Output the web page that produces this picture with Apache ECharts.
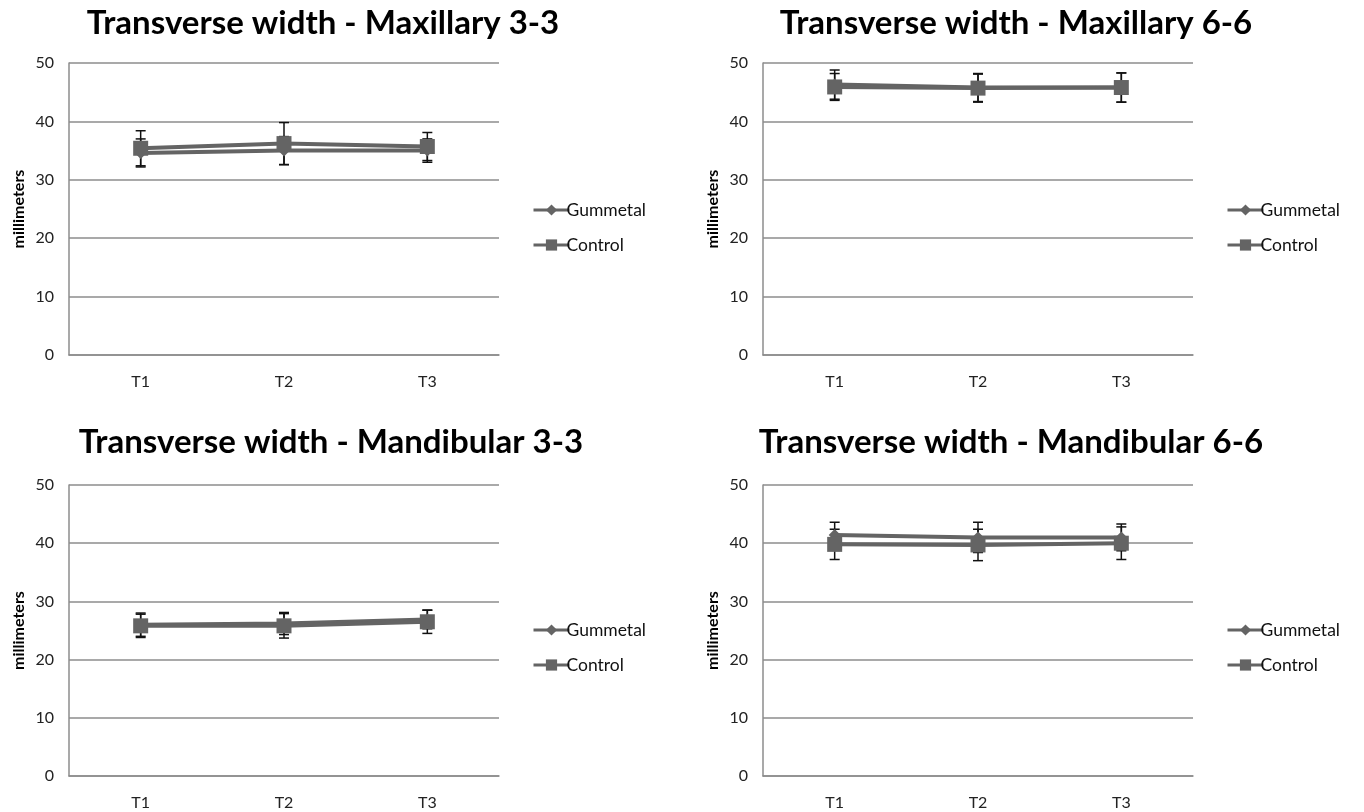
<!DOCTYPE html>
<html>
<head>
<meta charset="utf-8">
<script src="https://cdn.jsdelivr.net/npm/echarts@6/dist/echarts.min.js"></script>
<style>html,body{margin:0;padding:0;background:#fff}#c{width:1364px;height:812px}</style>
</head>
<body>
<div id="c"></div>
<script>
const categories = ['T1', 'T2', 'T3'];
const yTicks = [0, 10, 20, 30, 40, 50];
const seriesNames = ['Gummetal', 'Control'];
const chartTitles = [
  'Transverse width - Maxillary 3-3',
  'Transverse width - Maxillary 6-6',
  'Transverse width - Mandibular 3-3',
  'Transverse width - Mandibular 6-6'
];
// Maxillary 3-3
const max33Gummetal = [34.6, 35.0, 35.0];
const max33GummetalSD = [2.4, 2.4, 2.0];
const max33Control = [35.4, 36.2, 35.7];
const max33ControlSD = [3.0, 3.6, 2.4];
// Maxillary 6-6
const max66Gummetal = [46.3, 45.8, 45.8];
const max66GummetalSD = [2.5, 2.4, 2.5];
const max66Control = [45.9, 45.7, 45.8];
const max66ControlSD = [2.3, 2.4, 2.5];
// Mandibular 3-3
const man33Gummetal = [26.0, 26.2, 26.9];
const man33GummetalSD = [2.0, 1.9, 1.6];
const man33Control = [25.8, 25.8, 26.5];
const man33ControlSD = [2.0, 2.1, 2.0];
// Mandibular 6-6
const man66Gummetal = [41.4, 41.0, 41.0];
const man66GummetalSD = [2.2, 2.6, 2.3];
const man66Control = [39.8, 39.7, 40.0];
const man66ControlSD = [2.6, 2.7, 2.8];

const panels = [
  {g: max33Gummetal, gs: max33GummetalSD, c: max33Control, cs: max33ControlSD},
  {g: max66Gummetal, gs: max66GummetalSD, c: max66Control, cs: max66ControlSD},
  {g: man33Gummetal, gs: man33GummetalSD, c: man33Control, cs: man33ControlSD},
  {g: man66Gummetal, gs: man66GummetalSD, c: man66Control, cs: man66ControlSD}
];

const gridPos = [
  {left: 69, top: 63, width: 430, height: 292},
  {left: 763, top: 63, width: 430, height: 292},
  {left: 69, top: 485, width: 430, height: 291},
  {left: 763, top: 485, width: 430, height: 291}
];
const titlePos = [
  {x: 318, y: 2}, {x: 1011, y: 2}, {x: 326, y: 421}, {x: 1006, y: 421}
];
const legendPos = [
  {x: 527, y: 196}, {x: 1221, y: 196}, {x: 527, y: 616}, {x: 1221, y: 616}
];

const lineColor = '#646464';
const font = 'Lato, "Liberation Sans", sans-serif';

function errorRender(params, api) {
  const x = api.value(0);
  const lo = api.coord([x, api.value(1)]);
  const hi = api.coord([x, api.value(2)]);
  const w = 5;
  const style = {stroke: '#111', lineWidth: 1.5};
  return {
    type: 'group',
    children: [
      {type: 'line', shape: {x1: lo[0], y1: lo[1], x2: hi[0], y2: hi[1]}, style: style},
      {type: 'line', shape: {x1: lo[0] - w, y1: lo[1], x2: lo[0] + w, y2: lo[1]}, style: style},
      {type: 'line', shape: {x1: hi[0] - w, y1: hi[1], x2: hi[0] + w, y2: hi[1]}, style: style}
    ]
  };
}

const option = {
  animation: false,
  backgroundColor: '#fff',
  title: [], legend: [], grid: [], xAxis: [], yAxis: [], series: []
};

panels.forEach((p, i) => {
  option.title.push({
    text: chartTitles[i], left: titlePos[i].x, top: titlePos[i].y, textAlign: 'center',
    textStyle: {fontFamily: font, fontWeight: 'bold', fontSize: 33, color: '#000'}
  });
  option.grid.push(Object.assign({containLabel: false}, gridPos[i]));
  option.xAxis.push({
    type: 'category', gridIndex: i, data: categories, boundaryGap: true,
    axisLine: {lineStyle: {color: '#8c8c8c', width: 1.5}},
    axisTick: {show: false},
    axisLabel: {margin: 19, fontFamily: font, fontSize: 16, color: '#222'}
  });
  option.yAxis.push({
    type: 'value', gridIndex: i, min: yTicks[0], max: yTicks[yTicks.length - 1], interval: yTicks[1] - yTicks[0],
    name: 'millimeters', nameLocation: 'middle', nameGap: 42, nameRotate: 90,
    nameTextStyle: {fontFamily: font, fontWeight: 'bold', fontSize: 16, color: '#000'},
    axisLine: {show: true, lineStyle: {color: '#8c8c8c', width: 1.5}},
    axisTick: {show: false},
    axisLabel: {margin: 15, fontFamily: font, fontSize: 16, color: '#222'},
    splitLine: {lineStyle: {color: '#8c8c8c', width: 1.5}}
  });
  option.legend.push({
    orient: 'vertical', left: legendPos[i].x, top: legendPos[i].y,
    itemWidth: 36, itemHeight: 14, itemGap: 17,
    data: seriesNames,
    lineStyle: {width: 3},
    textStyle: {fontFamily: font, fontSize: 17.5, color: '#111', padding: [0, 0, 0, -8]}
  });
  const sets = [[p.g, p.gs, 'diamond', 12], [p.c, p.cs, 'rect', 15]];
  sets.forEach((s, k) => {
    option.series.push({
      type: 'custom', xAxisIndex: i, yAxisIndex: i, z: 1, silent: true,
      renderItem: errorRender,
      data: s[0].map((v, j) => [j, v - s[1][j], v + s[1][j]])
    });
  });
  sets.forEach((s, k) => {
    option.series.push({
      name: seriesNames[k], type: 'line', xAxisIndex: i, yAxisIndex: i, z: 3,
      data: s[0], symbol: s[2], symbolSize: s[3],
      lineStyle: {color: lineColor, width: 4},
      itemStyle: {color: lineColor}
    });
  });
});

const chart = echarts.init(document.getElementById('c'));
chart.setOption(option);
</script>
</body>
</html>
